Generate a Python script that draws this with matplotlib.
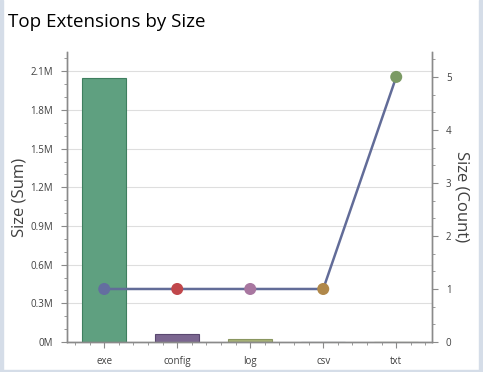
import numpy as np
import matplotlib
matplotlib.use("Agg")
import matplotlib.pyplot as plt
import matplotlib.patches as mpatches
from matplotlib.ticker import FixedLocator, MultipleLocator, FuncFormatter

plt.rcParams["font.family"] = ["Open Sans", "DejaVu Sans"]

# --- data ---
extensions = ["exe", "config", "log", "csv", "txt"]
size_sum   = [2.052e6, 0.062e6, 0.022e6, 0.003e6, 0.002e6]
size_count = [1, 1, 1, 1, 5]

BAR_COLORS  = ["#5fa080", "#7b6690", "#a7b277", "#3d4a70", "#6c7a3a"]
BAR_EDGES   = ["#3f7f5f", "#5a4870", "#8a9660", "#2a3558", "#56622c"]
DOT_COLORS  = ["#646ea0", "#c1474b", "#a877a0", "#b0884a", "#7b9a64"]
LINE_COLOR  = "#626c98"
AXIS_GRAY   = "#8a8a8a"
TEXT_GRAY   = "#404040"

fig = plt.figure(figsize=(4.83, 3.72), dpi=100)
fig.patch.set_facecolor("white")

ax = fig.add_axes([67 / 483, 30 / 372, 365 / 483, 290 / 372])
ax2 = ax.twinx()

x = np.arange(len(extensions))
ax.bar(x, size_sum, width=0.6, color=BAR_COLORS, edgecolor=BAR_EDGES,
       linewidth=0.8, zorder=2)

ax2.plot(x, size_count, color=LINE_COLOR, lw=1.8, zorder=3)
ax2.scatter(x, size_count, s=75, c=DOT_COLORS, zorder=4, linewidths=0)

# left axis
ax.set_xlim(-0.51, 4.49)
ax.set_ylim(0, 2.25e6)
ax.yaxis.set_major_locator(MultipleLocator(0.3e6))
ax.yaxis.set_minor_locator(MultipleLocator(0.1e6))
ax.yaxis.set_major_formatter(
    FuncFormatter(lambda v, _: "0M" if v == 0 else f"{v / 1e6:.1f}M"))
ax.yaxis.grid(True, color="#dedede", lw=0.8, zorder=0)
ax.set_axisbelow(True)

ax.set_xticks(x)
ax.set_xticklabels(extensions)
ax.xaxis.set_minor_locator(FixedLocator(np.arange(-0.4, 4.5, 0.2)))

# right axis
ax2.set_ylim(0, 5.47)
ax2.yaxis.set_major_locator(MultipleLocator(1))
ax2.yaxis.set_minor_locator(MultipleLocator(1 / 3))

ax.set_ylabel("Size (Sum)", fontsize=12, color=TEXT_GRAY, labelpad=2)
ax2.set_ylabel("Size (Count)", fontsize=12, color=TEXT_GRAY,
               rotation=270, labelpad=13)

for a in (ax, ax2):
    a.spines["top"].set_visible(False)
    for s in ("left", "right", "bottom"):
        a.spines[s].set_color(AXIS_GRAY)
        a.spines[s].set_linewidth(1.0)
    a.tick_params(which="major", length=4, color=AXIS_GRAY,
                  labelsize=7, labelcolor=TEXT_GRAY, pad=6)
    a.tick_params(which="minor", length=2.5, color=AXIS_GRAY)

fig.text(8 / 483, 1 - 22 / 372, "Top Extensions by Size", fontsize=13.5,
         color="black", va="center", ha="left")

# window frame border
fig.patches.append(mpatches.Rectangle((0, 0), 3 / 483, 1, transform=fig.transFigure,
                                      color="#d5dde8", zorder=10))
fig.patches.append(mpatches.Rectangle((1 - 4 / 483, 0), 4 / 483, 1,
                                      transform=fig.transFigure,
                                      color="#d5dde8", zorder=10))
fig.patches.append(mpatches.Rectangle((0, 0), 1, 2 / 372, transform=fig.transFigure,
                                      color="#d5dde8", zorder=10))

fig.savefig("out.png", dpi=100, facecolor=fig.get_facecolor())
